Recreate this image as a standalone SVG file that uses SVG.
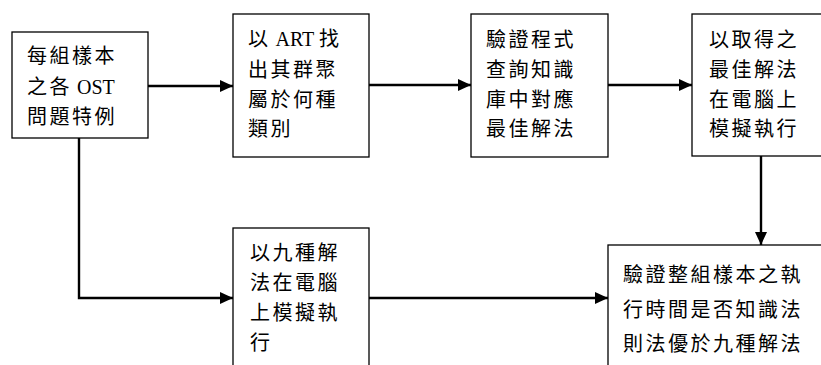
<svg xmlns="http://www.w3.org/2000/svg" width="821" height="365" viewBox="0 0 821 365">
<style>
.box{fill:#fff;stroke:#000;stroke-width:1.3}
.t{font-family:"Liberation Serif","Noto Sans CJK TC",serif;font-size:20px;fill:#000;letter-spacing:2.5px}
.l{letter-spacing:0}
.c{fill:none;stroke:#000;stroke-width:2.4}
</style>
<defs>
<marker id="ah" markerUnits="userSpaceOnUse" markerWidth="14" markerHeight="14" refX="13" refY="7" orient="auto">
<path d="M0,1 L13,7 L0,13 Z" fill="#000"/>
</marker>
</defs>
<rect width="821" height="365" fill="#fff"/>
<g id="connectors">
<line class="c" x1="148" y1="86" x2="233" y2="86" marker-end="url(#ah)"/>
<line class="c" x1="369" y1="85" x2="471" y2="85" marker-end="url(#ah)"/>
<line class="c" x1="608" y1="85" x2="692" y2="85" marker-end="url(#ah)"/>
<line class="c" x1="761" y1="156" x2="761" y2="245" marker-end="url(#ah)"/>
<path class="c" d="M79,138 V298 H233" marker-end="url(#ah)"/>
<line class="c" x1="369" y1="298" x2="608" y2="298" marker-end="url(#ah)"/>
</g>
<g id="n1">
<rect class="box" x="12" y="32" width="136" height="106"/>
<text class="t" x="27" y="63">每組樣本</text>
<text class="t" x="27" y="94">之各<tspan class="l"> OST</tspan></text>
<text class="t" x="27" y="124">問題特例</text>
</g>
<g id="n2">
<rect class="box" x="233" y="14" width="136" height="143"/>
<text class="t" x="248" y="46">以<tspan class="l"> ART </tspan>找</text>
<text class="t" x="248" y="77">出其群聚</text>
<text class="t" x="248" y="107">屬於何種</text>
<text class="t" x="248" y="136">類別</text>
</g>
<g id="n3">
<rect class="box" x="471" y="14" width="137" height="143"/>
<text class="t" x="486" y="47">驗證程式</text>
<text class="t" x="486" y="77">查詢知識</text>
<text class="t" x="486" y="107">庫中對應</text>
<text class="t" x="486" y="136">最佳解法</text>
</g>
<g id="n4">
<rect class="box" x="692" y="14" width="140" height="142"/>
<text class="t" x="709" y="47">以取得之</text>
<text class="t" x="709" y="77">最佳解法</text>
<text class="t" x="709" y="107">在電腦上</text>
<text class="t" x="709" y="136">模擬執行</text>
</g>
<g id="n5">
<rect class="box" x="233" y="228" width="136" height="150"/>
<text class="t" x="250" y="260">以九種解</text>
<text class="t" x="250" y="290">法在電腦</text>
<text class="t" x="250" y="320">上模擬執</text>
<text class="t" x="250" y="350">行</text>
</g>
<g id="n6">
<rect class="box" x="608" y="245" width="230" height="140"/>
<text class="t" x="623" y="282">驗證整組樣本之執</text>
<text class="t" x="623" y="317">行時間是否知識法</text>
<text class="t" x="623" y="351">則法優於九種解法</text>
</g>
</svg>
